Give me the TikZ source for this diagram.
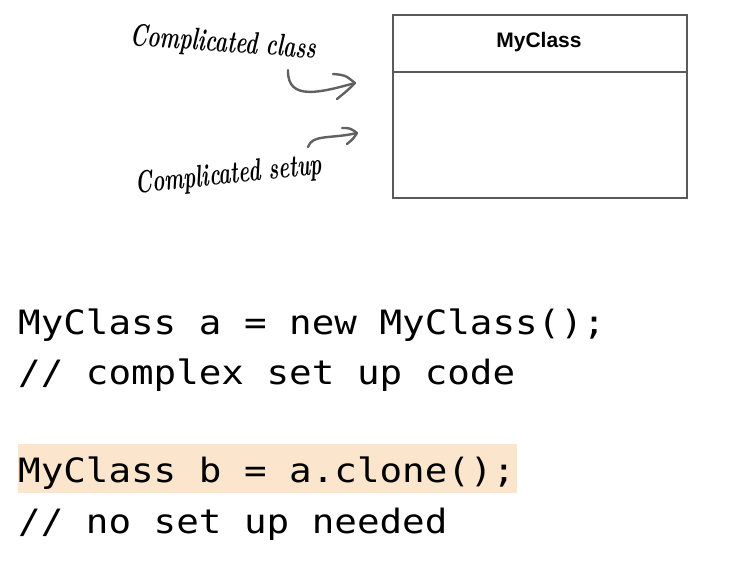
\documentclass[tikz,border=0pt]{standalone}
\usepackage{fontspec}
\setmainfont{Liberation Sans}
\newfontfamily\codefont{DejaVu Sans Mono}
\newfontfamily\handfont{Latin Modern Roman}
\begin{document}
\begin{tikzpicture}[x=1bp,y=-1bp,
  boxline/.style={draw=black!65, line width=1.8bp},
  codeline/.style={anchor=base west, inner sep=0pt, font=\codefont\fontsize{33.5bp}{40bp}\selectfont},
  hand/.style={inner sep=0pt, font=\handfont\bfseries\itshape},
  sketch/.style={draw=black!62, line width=2.4bp, line cap=round, line join=round},
  title/.style={font=\bfseries\fontsize{21bp}{24bp}\selectfont, inner sep=0pt}]
\useasboundingbox (0,0) rectangle (739,575);
% class box
\node[boxline, minimum width=294bp, minimum height=183bp, anchor=north west, inner sep=0pt] (box) at (392,14) {};
\coordinate (divL) at (392,72);
\coordinate (divR) at (686,72);
\draw[boxline] (divL) -- (divR);
\node[title] (cls) at (539,42) {MyClass};
% handwritten labels
\node[hand, rotate=-4] (lab1) at (223,44) {\resizebox{186bp}{22bp}{Complicated class}};
\node[hand, rotate=6] (lab2) at (229,176) {\resizebox{187bp}{22bp}{Complicated setup}};
% sketch arrows
\coordinate (a1s) at (288,70);
\coordinate (a1t) at (355,83);
\coordinate (a1u) at (333,74);
\coordinate (a1l) at (337,99);
\draw[sketch] (a1s) .. controls (287,102) and (322,92) .. (a1t);
\draw[sketch] (a1u) .. controls (345,75) .. (a1t) .. controls (348,90) .. (a1l);
\coordinate (a2s) at (308,147);
\coordinate (a2t) at (357,133);
\coordinate (a2u) at (342,128);
\coordinate (a2l) at (347,144);
\draw[sketch] (a2s) .. controls (312,134) and (332,139) .. (a2t);
\draw[sketch] (a2u) .. controls (350,128) .. (a2t) .. controls (353,139) .. (a2l);
% highlight
\fill[fill={rgb,255:red,252;green,229;blue,205}] (18,444) rectangle (517,493);
% code
\node[codeline] (c1) at (18,334) {\scalebox{1.12}[1]{MyClass a = new MyClass();}};
\node[codeline] (c2) at (18,384) {\scalebox{1.12}[1]{// complex set up code}};
\node[codeline] (c3) at (18,482) {\scalebox{1.12}[1]{MyClass b = a.clone();}};
\node[codeline] (c4) at (18,533) {\scalebox{1.12}[1]{// no set up needed}};
\end{tikzpicture}
\end{document}
